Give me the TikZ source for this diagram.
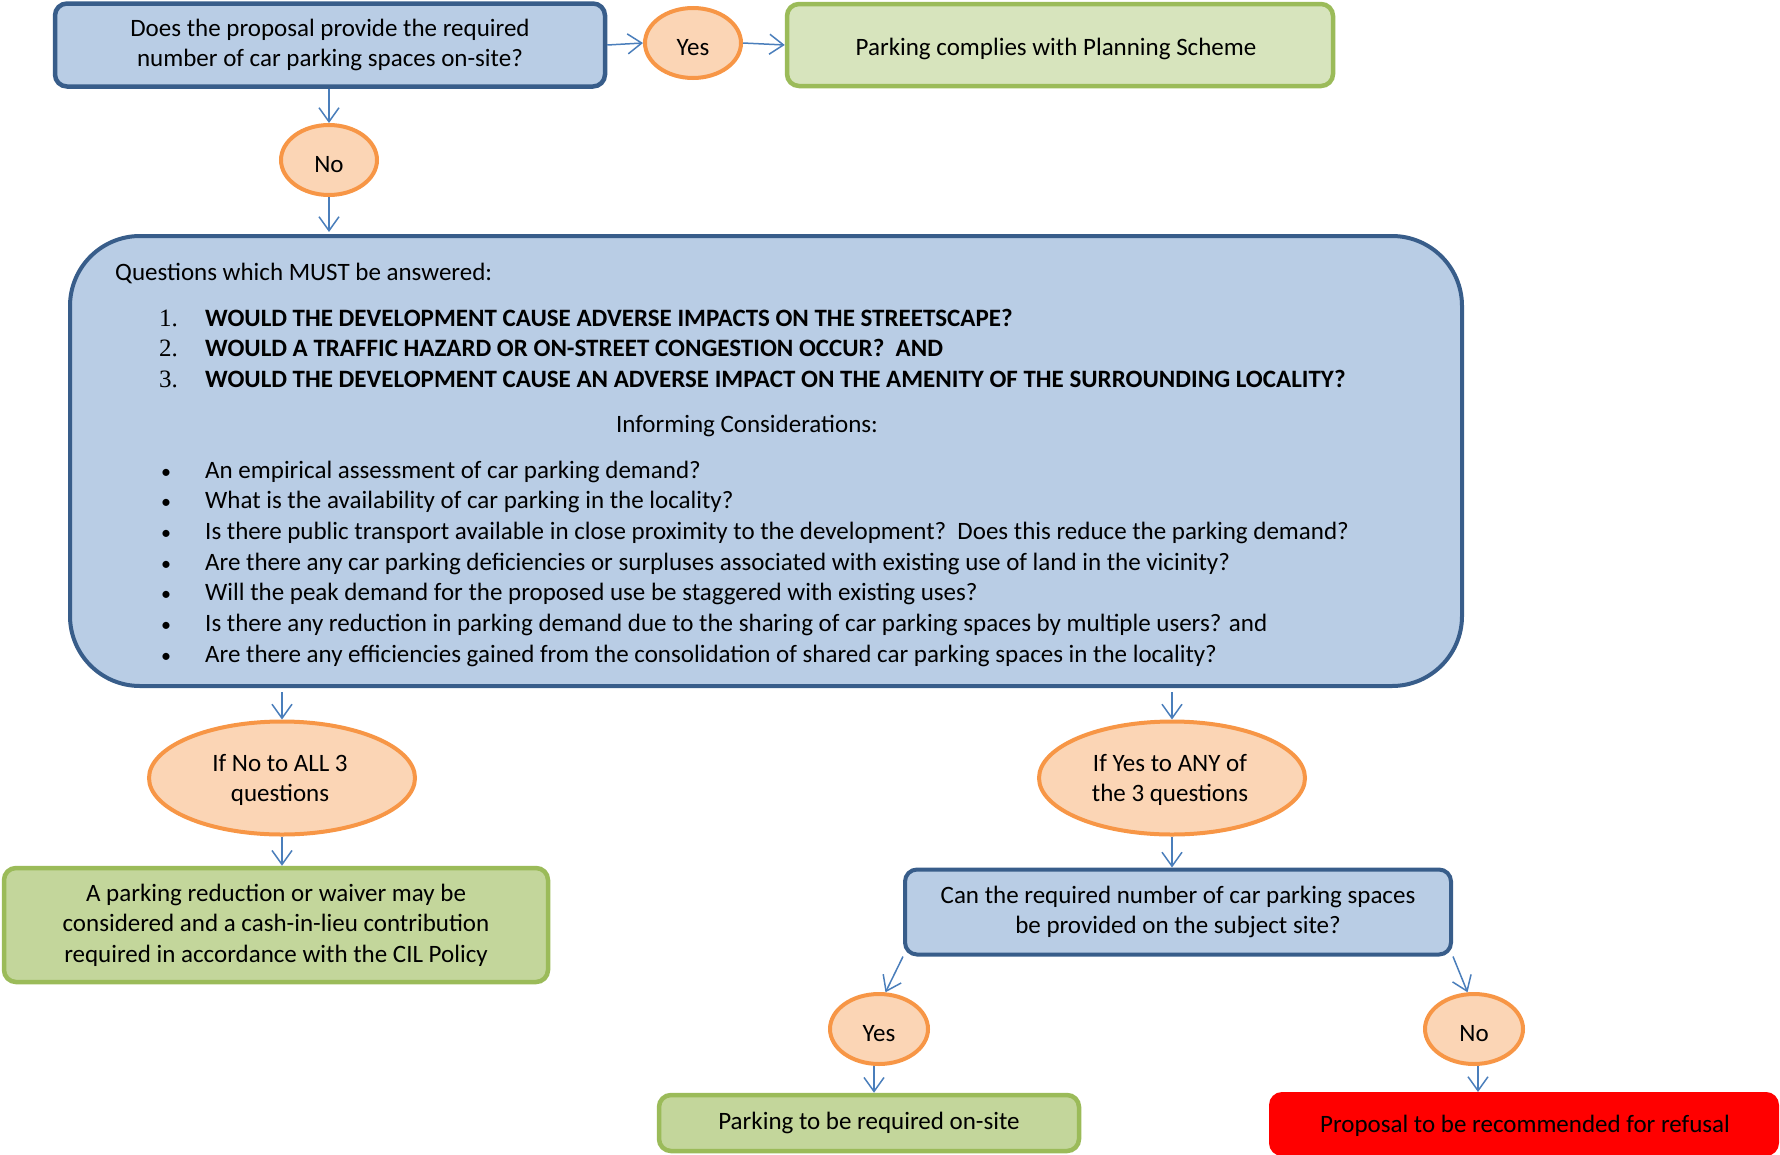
\documentclass[tikz,border=0pt]{standalone}
\usepackage{fontspec}
\setmainfont{Carlito}
\newfontfamily\serifnum{Liberation Serif}
\usetikzlibrary{shapes.geometric,arrows.meta,calc}
\definecolor{bluefill}{HTML}{B9CDE5}
\definecolor{blueline}{HTML}{385D8A}
\definecolor{orfill}{HTML}{FBD5B5}
\definecolor{orline}{HTML}{F79646}
\definecolor{grfill}{HTML}{C3D69B}
\definecolor{grfilllight}{HTML}{D7E4BD}
\definecolor{grline}{HTML}{9BBB59}
\definecolor{arrcol}{HTML}{4A7EBB}
\begin{document}
\begin{tikzpicture}[x=1pt,y=-1pt, font=\fontsize{25}{30.5}\selectfont,
 qbox/.style={rectangle, rounded corners=12pt, draw=blueline, fill=bluefill, line width=4.5pt, align=center, inner sep=0pt},
 gbox/.style={rectangle, rounded corners=12pt, draw=grline, fill=grfill, line width=4.5pt, align=center, inner sep=0pt},
 oval/.style={ellipse, draw=orline, fill=orfill, line width=4pt, align=center, inner sep=0pt},
 single/.style={text height=24pt, text depth=0pt},
 arr/.style={draw=arrcol, line width=1.5pt, -{Straight Barb[length=14pt,width=20pt,line width=1.5pt]}},
 txt/.style={anchor=mid west, inner sep=0pt},
 lbl/.style={anchor=center, align=center, inner sep=0pt}]
\useasboundingbox (0,0) rectangle (1780,1154);

% top row
\node[qbox, minimum width=550pt, minimum height=83pt] (q1) at (330,45)
  {Does the proposal provide the required\\number of car parking spaces on-site?};
\node[oval, single, minimum width=96pt, minimum height=70pt] (yes1) at (693,43) {Yes};
\node[gbox, fill=grfilllight, minimum width=546pt, minimum height=82pt] (comply) at (1060,45) {};
\node[lbl] (complytxt) at ($(comply.center)+(-4,4)$) {Parking complies with Planning Scheme};
\node[oval, single, minimum width=96pt, minimum height=70pt] (no1) at (329,160) {No};

% big question box
\node[rectangle, rounded corners=70pt, draw=blueline, fill=bluefill, line width=4pt,
  minimum width=1392pt, minimum height=450pt, inner sep=0pt] (big) at (766,461) {};
\node[txt] (qhead) at (115,278) {Questions which MUST be answered:};
\node[txt] (n1) at (159,324) {\serifnum 1.};
\node[txt] (n2) at (159,354) {\serifnum 2.};
\node[txt] (n3) at (159,385) {\serifnum 3.};
\node[txt] (t1) at (205,324) {\bfseries WOULD THE DEVELOPMENT CAUSE ADVERSE IMPACTS ON THE STREETSCAPE?};
\node[txt] (t2) at (205,354) {\bfseries WOULD A TRAFFIC HAZARD OR ON-STREET CONGESTION OCCUR?\ \ AND};
\node[txt] (t3) at (205,385) {\bfseries WOULD THE DEVELOPMENT CAUSE AN ADVERSE IMPACT ON THE AMENITY OF THE SURROUNDING LOCALITY?};
\node[anchor=mid, inner sep=0pt] (inf) at (747,430) {Informing Considerations:};
\foreach \yy/\tt [count=\i] in {
  476/{An empirical assessment of car parking demand?},
  506/{What is the availability of car parking in the locality?},
  537/{Is there public transport available in close proximity to the development?\ \ Does this reduce the parking demand?},
  568/{Are there any car parking deficiencies or surpluses associated with existing use of land in the vicinity?},
  598/{Will the peak demand for the proposed use be staggered with existing uses?},
  629/{Is there any reduction in parking demand due to the sharing of car parking spaces by multiple users? and},
  660/{Are there any efficiencies gained from the consolidation of shared car parking spaces in the locality?}}{
  \node[txt] (bul\i) at (161,\yy) {\fontsize{20}{20}\selectfont\textbullet};
  \node[txt] (bt\i) at (205,\yy) {\tt};
}

% bottom left
\node[oval, minimum width=266pt, minimum height=113pt] (ifno) at (282,778) {};
\node[lbl] (ifnotxt) at ($(ifno.center)+(-2,2)$) {If No to ALL 3\\questions};
\node[gbox, minimum width=544pt, minimum height=114pt] (act1) at (276,925)
  {A parking reduction or waiver may be\\considered and a cash-in-lieu contribution\\required in accordance with the CIL Policy};

% bottom right
\node[oval, minimum width=266pt, minimum height=113pt] (ifyes) at (1172,778) {};
\node[lbl] (ifyestxt) at ($(ifyes.center)+(-2,2)$) {If Yes to ANY of\\the 3 questions};
\node[qbox, line width=4pt, minimum width=546pt, minimum height=85pt] (q2) at (1178,912)
  {Can the required number of car parking spaces\\be provided on the subject site?};
\node[oval, single, minimum width=98pt, minimum height=70pt] (yes2) at (879,1029) {Yes};
\node[oval, single, minimum width=98pt, minimum height=70pt] (no2) at (1474,1029) {No};
\node[gbox, minimum width=420pt, minimum height=56pt] (req) at (869,1123) {Parking to be required on-site};
\node[rectangle, rounded corners=12pt, fill=red, draw=red, line width=2pt, minimum width=508pt,
  minimum height=62pt, inner sep=0pt] (refuse) at (1524,1124) {};
\node[anchor=mid, inner sep=0pt] (refusetxt) at (1525,1130) {Proposal to be recommended for refusal};

% connectors
\draw[arr] (q1.east) -- (yes1.west);
\draw[arr] (yes1.east) -- (comply.west);
\draw[arr] (q1.south -| no1) -- (no1.north);
\draw[arr] (no1.south) -- ($(no1.south |- big.north)+(0,-2)$);
\draw[arr] ($(big.south -| ifno)+(0,4)$) -- (ifno.north);
\draw[arr] ($(big.south -| ifyes)+(0,4)$) -- (ifyes.north);
\draw[arr] (ifno.south) -- (act1.north -| ifno);
\draw[arr] (ifyes.south) -- (q2.north -| ifyes);
\draw[arr] (q2.south west) -- (yes2.80);
\draw[arr] (q2.south east) -- (no2.100);
\draw[arr] (yes2.south -| 874,0) -- (req.north -| 874,0);
\draw[arr] (no2.south -| 1478,0) -- (refuse.north -| 1478,0);
\end{tikzpicture}
\end{document}
